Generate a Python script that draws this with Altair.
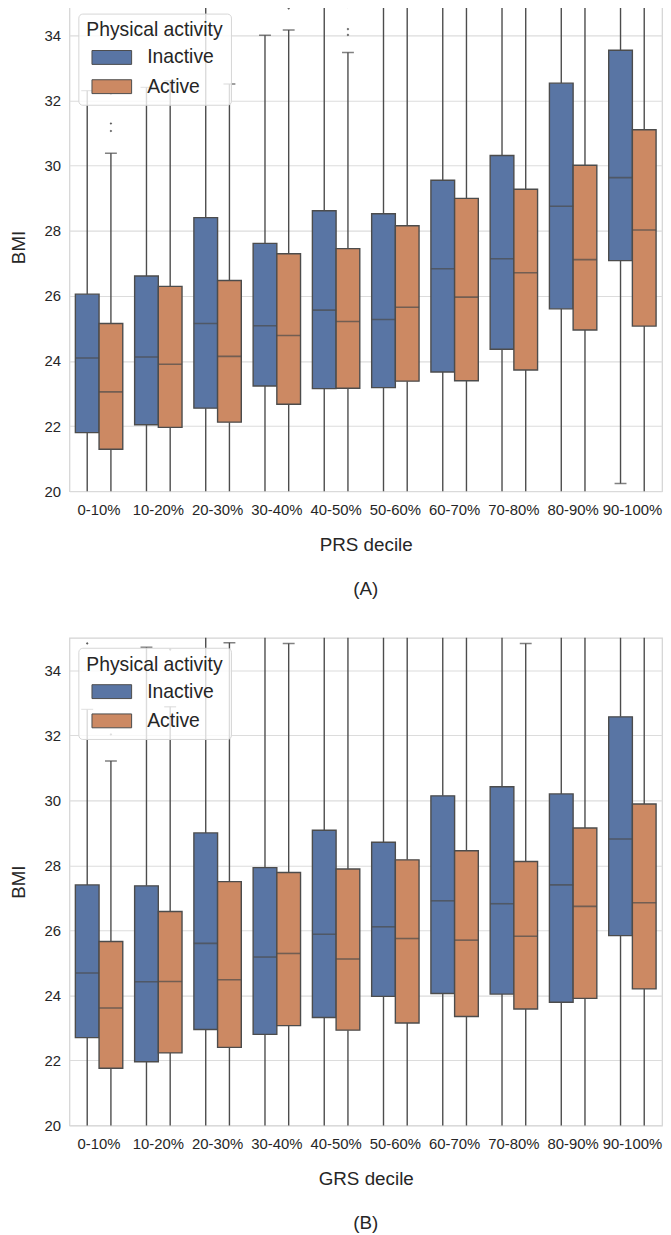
import altair as alt
import pandas as pd

deciles = ["0-10%", "10-20%", "20-30%", "30-40%", "40-50%",
           "50-60%", "60-70%", "70-80%", "80-90%", "90-100%"]
groups = ["Inactive", "Active"]

# ---- Panel A: PRS deciles ----
prs_inactive_lo = [15.4, 15.2, 16.0, 17.7, 17.0, 17.2, 16.8, 16.5, 16.2, 20.24]
prs_inactive_q1 = [21.80, 22.04, 22.55, 23.23, 23.15, 23.18, 23.66, 24.36, 25.60, 27.08]
prs_inactive_med = [24.09, 24.12, 25.15, 25.08, 25.56, 25.27, 26.83, 27.14, 28.75, 29.63]
prs_inactive_q3 = [26.05, 26.61, 28.40, 27.61, 28.61, 28.52, 29.55, 30.31, 32.53, 33.54]
prs_inactive_hi = [32.3, 32.4, 37.2, 34.0, 36.8, 36.5, 37.3, 39.2, 42.8, 43.2]

prs_active_lo = [16.0, 16.0, 16.0, 16.8, 17.0, 16.3, 15.0, 15.4, 17.4, 16.5]
prs_active_q1 = [21.29, 21.96, 22.12, 22.67, 23.16, 23.38, 23.39, 23.72, 24.95, 25.07]
prs_active_med = [23.05, 23.90, 24.14, 24.78, 25.21, 25.65, 25.96, 26.71, 27.11, 28.02]
prs_active_q3 = [25.15, 26.29, 26.47, 27.29, 27.45, 28.15, 28.99, 29.27, 30.01, 31.10]
prs_active_hi = [30.38, 32.6, 32.5, 34.16, 33.47, 35.2, 37.4, 37.6, 37.6, 40.0]

prs_flier_decile = ["0-10%", "0-10%", "0-10%", "10-20%", "30-40%", "40-50%", "40-50%", "40-50%"]
prs_flier_group = ["Active", "Active", "Active", "Active", "Active", "Active", "Active", "Active"]
prs_flier_value = [31.06, 31.29, 32.2, 34.95, 34.82, 34.01, 34.19, 34.87]

# ---- Panel B: GRS deciles ----
grs_inactive_lo = [15.9, 14.9, 14.9, 15.1, 14.7, 16.0, 14.9, 14.5, 14.4, 16.8]
grs_inactive_q1 = [22.70, 21.96, 22.95, 22.80, 23.32, 23.97, 24.06, 24.04, 23.79, 25.84]
grs_inactive_med = [24.69, 24.42, 25.60, 25.18, 25.88, 26.11, 26.91, 26.82, 27.40, 28.81]
grs_inactive_q3 = [27.40, 27.37, 29.00, 27.93, 29.08, 28.71, 30.14, 30.42, 30.20, 32.57]
grs_inactive_hi = [32.8, 34.71, 38.0, 35.6, 37.7, 35.8, 39.2, 39.9, 39.8, 42.6]

grs_active_lo = [16.9, 16.7, 15.8, 15.9, 15.5, 16.1, 16.2, 16.3, 16.3, 15.7]
grs_active_q1 = [21.76, 22.23, 22.40, 23.07, 22.93, 23.15, 23.35, 23.58, 23.91, 24.20]
grs_active_med = [23.61, 24.43, 24.48, 25.29, 25.12, 25.75, 25.70, 25.82, 26.74, 26.85]
grs_active_q3 = [25.66, 26.58, 27.50, 27.78, 27.89, 28.17, 28.45, 28.12, 29.15, 29.89]
grs_active_hi = [31.21, 32.88, 34.85, 34.83, 35.8, 35.6, 35.6, 34.83, 36.9, 38.4]

grs_flier_decile = ["0-10%", "0-10%", "10-20%"]
grs_flier_group = ["Inactive", "Active", "Active"]
grs_flier_value = [34.83, 32.03, 34.64]

BLUE = "#5975a4"
ORANGE = "#cc8963"
GRAY = "#4c4c4c"
FONT = "Liberation Sans"
TXT = "#262626"


def make_df(ina, act):
    rows = []
    for i, d in enumerate(deciles):
        for g, s in (("Inactive", ina), ("Active", act)):
            rows.append({"decile": d, "group": g, "lo": s[0][i], "q1": s[1][i],
                         "med": s[2][i], "q3": s[3][i], "hi": s[4][i]})
    return pd.DataFrame(rows)


def panel(df, fl, xtitle, ptitle, h, ly):
    yscale = alt.Scale(domain=[20, 35], nice=False, zero=False)
    yaxis = alt.Axis(values=[20, 22, 24, 26, 28, 30, 32, 34], grid=True,
                     gridColor="#dcdcdc", gridWidth=1.1, ticks=False, domain=False,
                     labelPadding=9, titlePadding=16)

    def Y(f):
        return alt.Y(f, scale=yscale, axis=yaxis, title="BMI")

    x = alt.X("decile:N", sort=deciles, title=xtitle,
              scale=alt.Scale(paddingInner=0.2, paddingOuter=0.1),
              axis=alt.Axis(labelAngle=0, ticks=False, domain=False, grid=False,
                            labelPadding=11, titlePadding=19))
    xo = alt.XOffset("group:N", sort=groups,
                     scale=alt.Scale(domain=groups, paddingInner=0, paddingOuter=0))

    base = alt.Chart(df).encode(x=x, xOffset=xo)
    lower = base.mark_rule(color=GRAY, strokeWidth=1.4, clip=True).encode(
        y=Y("q1:Q"), y2="lo:Q")
    upper = base.mark_rule(color=GRAY, strokeWidth=1.4, clip=True).encode(
        y=Y("q3:Q"), y2="hi:Q")
    box = base.mark_bar(stroke=GRAY, strokeWidth=1.4, clip=True).encode(
        y=Y("q1:Q"), y2="q3:Q",
        color=alt.Color("group:N", sort=groups,
                        scale=alt.Scale(domain=groups, range=[BLUE, ORANGE]),
                        legend=alt.Legend(
                            title="Physical activity", orient="none",
                            legendX=9, legendY=ly,
                            titleFont=FONT, titleFontSize=19.5, titleFontWeight="normal",
                            titleColor=TXT, titlePadding=7,
                            labelFont=FONT, labelFontSize=19.5, labelColor=TXT,
                            symbolType="M-2.5,-0.875H2.5V0.875H-2.5Z",
                            symbolSize=256, symbolStrokeColor=GRAY,
                            symbolStrokeWidth=1, symbolOpacity=1,
                            symbolOffset=16, labelOffset=26, rowPadding=8.5,
                            padding=8, fillColor="rgba(255,255,255,0.8)",
                            strokeColor="#d6d6d6", cornerRadius=4)))
    med = base.mark_tick(color=GRAY, thickness=1.6, size=24, clip=True).encode(
        y=Y("med:Q"))
    cap_hi = base.mark_tick(color=GRAY, thickness=1.5, size=12, clip=True).encode(
        y=Y("hi:Q"))
    cap_lo = base.mark_tick(color=GRAY, thickness=1.5, size=12, clip=True).encode(
        y=Y("lo:Q"))
    pts = alt.Chart(fl).mark_point(shape="diamond", filled=True, size=7,
                                   color=GRAY, opacity=0.9, clip=True).encode(
        x=x, xOffset=xo, y=Y("value:Q"))

    return alt.layer(lower, upper, box, med, cap_hi, cap_lo, pts).properties(
        width=598, height=h,
        title=alt.TitleParams(ptitle, orient="bottom", font=FONT, fontSize=19,
                              fontWeight="normal", color=TXT, offset=26,
                              frame="group", anchor="middle"))


df_a = make_df((prs_inactive_lo, prs_inactive_q1, prs_inactive_med, prs_inactive_q3, prs_inactive_hi),
               (prs_active_lo, prs_active_q1, prs_active_med, prs_active_q3, prs_active_hi))
df_b = make_df((grs_inactive_lo, grs_inactive_q1, grs_inactive_med, grs_inactive_q3, grs_inactive_hi),
               (grs_active_lo, grs_active_q1, grs_active_med, grs_active_q3, grs_active_hi))
fl_a = pd.DataFrame({"decile": prs_flier_decile, "group": prs_flier_group, "value": prs_flier_value})
fl_b = pd.DataFrame({"decile": grs_flier_decile, "group": grs_flier_group, "value": grs_flier_value})

chart = alt.vconcat(
    panel(df_a, fl_a, "PRS decile", "(A)", 493, 11),
    panel(df_b, fl_b, "GRS decile", "(B)", 492, 10),
    spacing=37,
).resolve_scale(
    color="independent"
).resolve_legend(
    color="independent"
).properties(
    padding={"top": -12, "left": 0, "right": 0, "bottom": 0}
).configure_view(
    stroke="#d3d3d3", strokeWidth=1.2
).configure_axis(
    labelFont=FONT, labelFontSize=15, labelColor=TXT,
    titleFont=FONT, titleFontSize=19, titleFontWeight="normal", titleColor=TXT
)

chart.save("out.html", embed_options={"renderer": "svg", "actions": False})
